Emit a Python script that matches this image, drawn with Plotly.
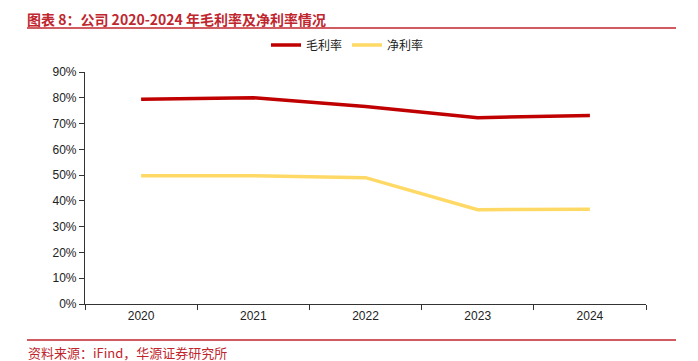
import plotly.graph_objects as go

years = ["2020", "2021", "2022", "2023", "2024"]
gross_margin = [0.794, 0.800, 0.766, 0.723, 0.731]
net_margin = [0.498, 0.498, 0.490, 0.366, 0.368]
y_ticks = [0, 0.1, 0.2, 0.3, 0.4, 0.5, 0.6, 0.7, 0.8, 0.9]
y_labels = ["0%", "10%", "20%", "30%", "40%", "50%", "60%", "70%", "80%", "90%"]

OFF = 8  # page body margin
W, H = 698 - OFF, 361 - OFF
L, R, T, B = 85 - OFF, 52, 72 - OFF, 57
pw, ph = W - L - R, H - T - B

def px(x):
    return (x - OFF - L) / pw

def py(y):
    return (H - B - (y - OFF)) / ph

fig = go.Figure()
fig.add_trace(go.Scatter(x=years, y=gross_margin, mode="lines", name="毛利率",
                         line=dict(color="#C00000", width=3.5)))
fig.add_trace(go.Scatter(x=years, y=net_margin, mode="lines", name="净利率",
                         line=dict(color="#FFD966", width=3.5)))

font_family = "Liberation Sans, Arial, Noto Sans CJK SC, sans-serif"
fig.update_layout(
    width=W, height=H,
    margin=dict(l=L, r=R, t=T, b=B),
    paper_bgcolor="white", plot_bgcolor="white",
    font=dict(family=font_family, size=11, color="#222222"),
    showlegend=True,
    legend=dict(orientation="h", x=px(266), y=py(45), xanchor="left", yanchor="middle",
                font=dict(size=12, color="#222222", family="Noto Sans CJK SC"),
                itemwidth=30, tracegroupgap=0, bgcolor="rgba(0,0,0,0)"),
    xaxis=dict(showline=True, linecolor="#333333", linewidth=1.2, ticks="outside",
               ticklen=5, tickcolor="#333333", tickson="boundaries", showgrid=False,
               zeroline=False, tickfont=dict(size=12, color="#222222"),
               range=[-0.5, 4.5]),
    yaxis=dict(range=[0, 0.9], tickvals=y_ticks, ticktext=y_labels, showline=True,
               linecolor="#333333", linewidth=1.2, ticks="outside", ticklen=5,
               tickcolor="#333333", showgrid=False, zeroline=False,
               tickfont=dict(size=12, color="#222222")),
)

# header and footer decorations
fig.add_shape(type="line", xref="paper", yref="paper", x0=px(27), x1=px(676),
              y0=py(28), y1=py(28), line=dict(color="#C0262D", width=1.5))
fig.add_shape(type="line", xref="paper", yref="paper", x0=px(27), x1=px(676),
              y0=py(340), y1=py(340), line=dict(color="#C0262D", width=1.5))
fig.add_annotation(xref="paper", yref="paper", x=px(26), y=py(OFF + 0.5), xanchor="left",
                   yanchor="top", showarrow=False, borderpad=0,
                   text="<b>图表 8：公司 2020-2024 年毛利率及净利率情况</b>",
                   font=dict(size=14, color="#C0262D", family="Noto Sans CJK SC"))
fig.add_annotation(xref="paper", yref="paper", x=px(26), y=py(352), xanchor="left",
                   yanchor="middle", showarrow=False,
                   text="资料来源：iFind，华源证券研究所",
                   font=dict(size=13, color="#C0262D", family="Noto Sans CJK SC"))

fig.write_html("out.html")
